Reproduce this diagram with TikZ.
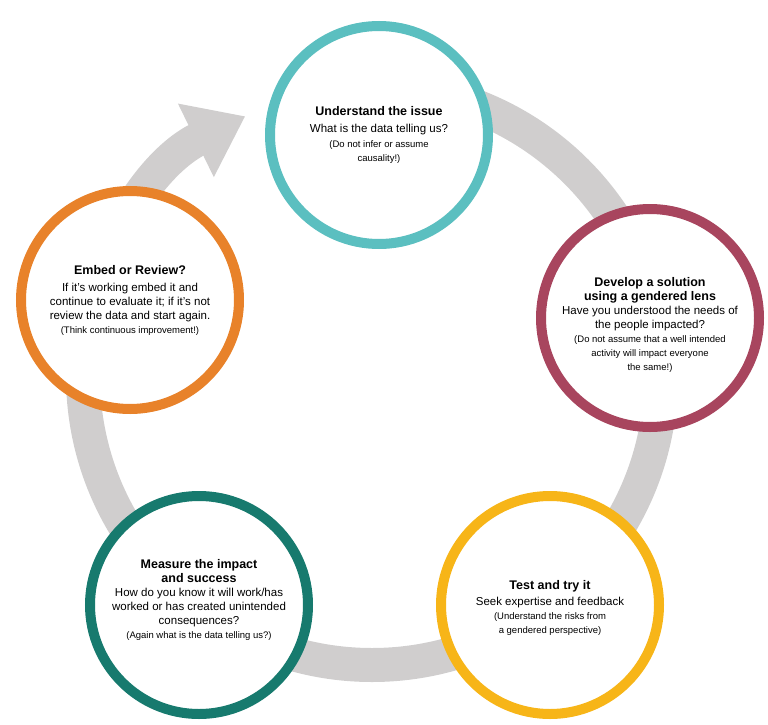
\documentclass[tikz,border=0pt]{standalone}
\usepackage{fontspec}
\setmainfont{Liberation Sans}
\usetikzlibrary{arrows.meta}
\definecolor{cteal}{HTML}{5BBFC0}
\definecolor{cmag}{HTML}{A8455E}
\definecolor{cyel}{HTML}{F7B518}
\definecolor{cgreen}{HTML}{177A6E}
\definecolor{corange}{HTML}{E8822A}
\definecolor{cring}{HTML}{D0CECE}
\tikzset{
  stage/.style={draw=#1,line width=10pt,circle,fill=white,minimum size=218pt,inner sep=0pt},
  txt/.style={align=center,font=\fontsize{11.5}{14}\selectfont,inner sep=0pt},
}
\newcommand{\ttl}[1]{{\bfseries\fontsize{12.5}{15}\selectfont #1}}
\newcommand{\sml}[1]{{\fontsize{9.5}{13}\selectfont #1}}
\begin{document}
\begin{tikzpicture}[x=1pt,y=-1pt]
\useasboundingbox (0,0) rectangle (768,725);
% ring
\draw[cring,line width=34pt,-{Triangle[length=55pt,width=78pt]}]
  (372,376) ++(270:289) arc[start angle=270,end angle=604,radius=289];
% stages
\node[stage=cteal] (issue) at (379,135) {};
\node[stage=cmag] (solve) at (650,318) {};
\node[stage=cyel] (test) at (550,605) {};
\node[stage=cgreen] (measure) at (199,605) {};
\node[stage=corange] (embed) at (130,300) {};
% texts
\node[txt] at (379,135) {\ttl{Understand the issue}\\[3pt] What is the data telling us?\\[1pt]
  \sml{(Do not infer or assume}\\ \sml{causality!)}};
\node[txt] at (650,325) {\ttl{Develop a solution}\\ \ttl{using a gendered lens}\\ Have you understood the needs of\\ the people impacted?\\
  \sml{(Do not assume that a well intended}\\ \sml{activity will impact everyone}\\ \sml{the same!)}};
\node[txt] at (550,608) {\ttl{Test and try it}\\[2pt] Seek expertise and feedback\\
  \sml{(Understand the risks from}\\ \sml{a gendered perspective)}};
\node[txt] at (199,600) {\ttl{Measure the impact}\\ \ttl{and success}\\ How do you know it will work/has\\ worked or has created unintended\\ consequences?\\
  \sml{(Again what is the data telling us?)}};
\node[txt] at (130,300) {\ttl{Embed or Review?}\\[3pt] If it's working embed it and\\ continue to evaluate it; if it's not\\ review the data and start again.\\
  \sml{(Think continuous improvement!)}};
\end{tikzpicture}
\end{document}
